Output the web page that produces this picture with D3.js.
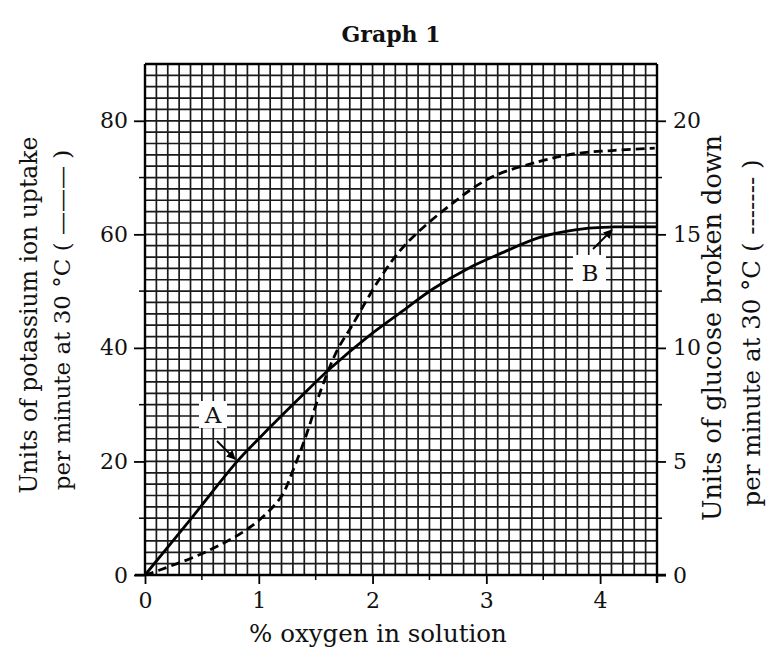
<!DOCTYPE html>
<html><head><meta charset="utf-8">
<script src="https://cdn.jsdelivr.net/npm/d3@7/dist/d3.min.js"></script>
<style>
body{margin:0;background:#fff;}
text{font-family:"DejaVu Serif","Liberation Serif",serif;fill:#111;}
</style></head>
<body>
<svg id="chart" width="771" height="661"></svg>
<script>
// ---- data ----
const xTicks = [0, 1, 2, 3, 4];
const leftTicks = [0, 20, 40, 60, 80];
const rightTicks = [0, 5, 10, 15, 20];
// potassium ion uptake (left axis), solid line
const potassiumX = [0, 0.4, 0.81, 1.0, 1.34, 1.63, 1.96, 2.25, 2.54, 2.84, 3.1, 3.49, 3.9, 4.13, 4.5];
const potassiumY = [0, 9.8, 20, 24, 30.8, 36.4, 42.0, 46.3, 50.5, 54.0, 56.4, 59.6, 61.1, 61.3, 61.3];
// glucose broken down (right axis), dashed line
const glucoseX = [0, 0.13, 0.54, 0.93, 1.19, 1.3, 1.42, 1.55, 1.69, 1.81, 2.07, 2.28, 2.66, 3.04, 3.46, 3.78, 4.13, 4.48];
const glucoseY = [0, 0.22, 1.03, 2.13, 3.4, 4.6, 6.2, 8.2, 9.9, 10.9, 13.1, 14.5, 16.2, 17.5, 18.2, 18.55, 18.7, 18.8];

const svg = d3.select("#chart");
const L = 145, R = 657, T = 64, B = 575;
const x = d3.scaleLinear().domain([0, 4.5]).range([L, R]);
const yL = d3.scaleLinear().domain([0, 90]).range([B, T]);
const yR = d3.scaleLinear().domain([0, 22.5]).range([B, T]);
const FS = 22;

// title
svg.append("text").attr("x", 391).attr("y", 42).attr("text-anchor", "middle")
  .attr("font-size", 22).attr("font-weight", "bold").text("Graph 1");

// grid
const g = svg.append("g");
g.selectAll("line.v").data(d3.range(0, 46)).join("line")
  .attr("x1", d => x(d / 10)).attr("x2", d => x(d / 10))
  .attr("y1", T).attr("y2", B).attr("stroke", "#1a1a1a").attr("stroke-width", 1.7);
g.selectAll("line.h").data(d3.range(0, 46)).join("line")
  .attr("y1", d => yL(d * 2)).attr("y2", d => yL(d * 2))
  .attr("x1", L).attr("x2", R).attr("stroke", "#1a1a1a").attr("stroke-width", 1.7);
// border
g.append("line").attr("x1", L).attr("x2", R).attr("y1", T).attr("y2", T).attr("stroke", "#000").attr("stroke-width", 2.4);
g.append("line").attr("x1", L).attr("x2", L).attr("y1", T).attr("y2", B).attr("stroke", "#000").attr("stroke-width", 2.4);
g.append("line").attr("x1", R).attr("x2", R).attr("y1", T).attr("y2", B + 8).attr("stroke", "#000").attr("stroke-width", 2.4);
g.append("line").attr("x1", 135).attr("x2", 666).attr("y1", B).attr("y2", B).attr("stroke", "#000").attr("stroke-width", 2.6);

function styleAxis(sel) {
  sel.select(".domain").remove();
  sel.selectAll(".tick line").attr("stroke", "#000").attr("stroke-width", 1.8);
  sel.selectAll("text").attr("font-size", FS).attr("font-family", "DejaVu Serif, serif").attr("fill", "#111");
}
// axes
const xa = svg.append("g").attr("transform", `translate(0,${B})`)
  .call(d3.axisBottom(x).tickValues(xTicks).tickSize(9).tickPadding(8).tickFormat(d3.format("d")));
styleAxis(xa);
svg.append("g").selectAll("line").data([0.5, 1.5, 2.5, 3.5]).join("line")
  .attr("x1", d => x(d)).attr("x2", d => x(d)).attr("y1", B).attr("y2", B + 5)
  .attr("stroke", "#000").attr("stroke-width", 1.5);

const ya = svg.append("g").attr("transform", `translate(${L},0)`)
  .call(d3.axisLeft(yL).tickValues(leftTicks).tickSize(11).tickPadding(6));
styleAxis(ya);
svg.append("g").selectAll("line").data([10, 30, 50, 70]).join("line")
  .attr("x1", L - 6).attr("x2", L).attr("y1", d => yL(d)).attr("y2", d => yL(d))
  .attr("stroke", "#000").attr("stroke-width", 1.5);

const yr = svg.append("g").attr("transform", `translate(${R},0)`)
  .call(d3.axisRight(yR).tickValues(rightTicks).tickSize(9).tickPadding(7));
styleAxis(yr);
svg.append("g").selectAll("line").data([2.5, 7.5, 12.5, 17.5]).join("line")
  .attr("x1", R).attr("x2", R + 5).attr("y1", d => yR(d)).attr("y2", d => yR(d))
  .attr("stroke", "#000").attr("stroke-width", 1.5);

// axis titles
svg.append("text").attr("x", 378).attr("y", 642).attr("text-anchor", "middle")
  .attr("font-size", 24.5).text("% oxygen in solution");
svg.append("text").attr("transform", "translate(37,315) rotate(-90)").attr("text-anchor", "middle")
  .attr("font-size", 23.5).text("Units of potassium ion uptake");
svg.append("text").attr("transform", "translate(70,320) rotate(-90)").attr("text-anchor", "middle")
  .attr("font-size", 23).text("per minute at 30 °C ( ——— )");
svg.append("text").attr("transform", "translate(721,328) rotate(-90)").attr("text-anchor", "middle")
  .attr("font-size", 25.5).text("Units of glucose broken down");
svg.append("text").attr("transform", "translate(760,333) rotate(-90)").attr("text-anchor", "middle")
  .attr("font-size", 24.5).text("per minute at 30 °C ( ------- )");

// curves
const solid = potassiumX.map((v, i) => [v, potassiumY[i]]);
const dashed = glucoseX.map((v, i) => [v, glucoseY[i]]);
svg.append("path").datum(solid)
  .attr("d", d3.line().x(d => x(d[0])).y(d => yL(d[1])).curve(d3.curveCatmullRom.alpha(0.5)))
  .attr("fill", "none").attr("stroke", "#000").attr("stroke-width", 2.8);
svg.append("path").datum(dashed)
  .attr("d", d3.line().x(d => x(d[0])).y(d => yR(d[1])).curve(d3.curveCatmullRom.alpha(0.5)))
  .attr("fill", "none").attr("stroke", "#000").attr("stroke-width", 2.8).attr("stroke-dasharray", "9,5");

// labels A and B
svg.append("rect").attr("x", 199).attr("y", 401).attr("width", 28).attr("height", 27).attr("fill", "#fff");
svg.append("text").attr("x", 213).attr("y", 423).attr("text-anchor", "middle").attr("font-size", 23).text("A");
svg.append("rect").attr("x", 573).attr("y", 255).attr("width", 33).attr("height", 35).attr("fill", "#fff");
svg.append("text").attr("x", 590).attr("y", 281).attr("text-anchor", "middle").attr("font-size", 23).text("B");

const defs = svg.append("defs");
defs.append("marker").attr("id", "arr").attr("viewBox", "0 0 10 10").attr("refX", 9).attr("refY", 5)
  .attr("markerWidth", 5).attr("markerHeight", 5).attr("orient", "auto")
  .append("path").attr("d", "M0,0 L10,5 L0,10 Z").attr("fill", "#000");
svg.append("line").attr("x1", 217).attr("y1", 441).attr("x2", 235).attr("y2", 459)
  .attr("stroke", "#000").attr("stroke-width", 1.8).attr("marker-end", "url(#arr)");
svg.append("line").attr("x1", 593).attr("y1", 249).attr("x2", 612).attr("y2", 230)
  .attr("stroke", "#000").attr("stroke-width", 1.8).attr("marker-end", "url(#arr)");
</script>
</body></html>
